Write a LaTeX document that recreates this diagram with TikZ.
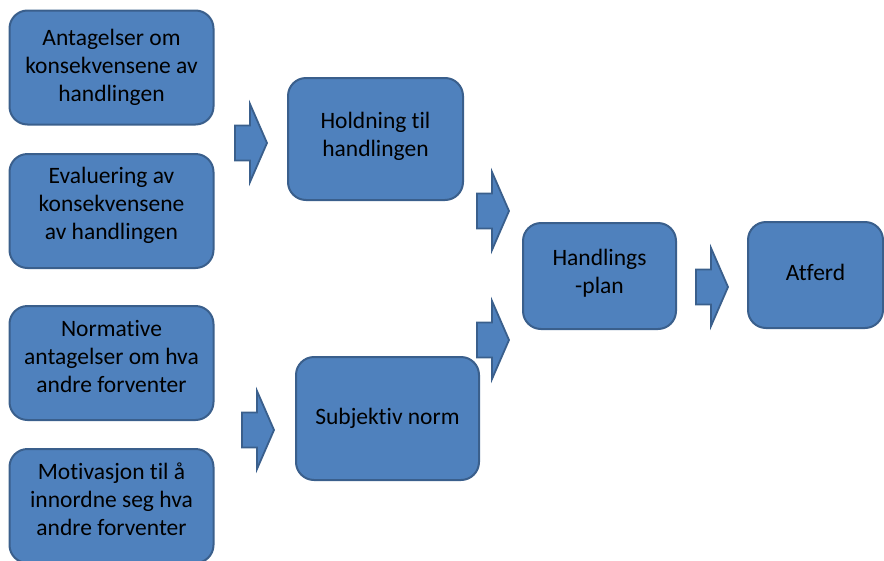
\documentclass[tikz,border=0pt]{standalone}
\usepackage{fontspec}
\setmainfont{Carlito}[Ligatures=CommonOff]
\usetikzlibrary{positioning}
\definecolor{boxfill}{HTML}{4F81BD}
\definecolor{boxline}{HTML}{3A5F8C}

\tikzset{
  boxtext/.style={align=center,inner sep=0pt,font=\fontsize{23.5}{28}\selectfont},
  stepbox/.style={rectangle,rounded corners=18pt,draw=boxline,fill=boxfill,line width=2pt,boxtext},
  leftbox/.style={stepbox,minimum width=204pt,minimum height=114pt},
  % text lifted a little above the box centre
  lifted/.style 2 args={label={[boxtext,yshift=#1]center:{#2}}},
  blockarrow/.pic={
    \draw[boxline,fill=boxfill,line width=1.8pt,line join=miter]
      (-16,-17.5) -- (-1,-17.5) -- (-1,-39) -- (16,0) -- (-1,39) -- (-1,17.5) -- (-16,17.5) -- cycle;}
}

\begin{document}
\begin{tikzpicture}[x=1pt,y=-1pt]
  \useasboundingbox (0,0) rectangle (884,560);
  % left column
  \node[leftbox] (antagelser) at (111.5,67.5) {Antagelser om\\konsekvensene av\\handlingen};
  \node[leftbox,lifted={6pt}{Evaluering av\\konsekvensene\\av handlingen}] (evaluering) at (111.5,211) {};
  \node[leftbox,lifted={7pt}{Normative\\antagelser om hva\\andre forventer}] (normative) at (111.5,363) {};
  \node[leftbox,lifted={7pt}{Motivasjon til å\\innordne seg hva\\andre forventer}] (motivasjon) at (111.5,506) {};

  % middle and right
  \node[stepbox,minimum width=175pt,minimum height=122pt,lifted={3pt}{Holdning til\\handlingen}] (holdning) at (375.5,139) {};
  \node[stepbox,minimum width=183pt,minimum height=123pt] (subjektiv) at (387.5,418.5) {Subjektiv norm};
  \node[stepbox,minimum width=153pt,minimum height=106pt,lifted={3pt}{Handlings\\-plan}] (handlingsplan) at (599.5,276) {};
  \node[stepbox,minimum width=135pt,minimum height=106pt,lifted={3pt}{Atferd}] (atferd) at (815.5,275) {};

  % block arrows
  \pic (tilholdning) at (251,143) {blockarrow};
  \pic (tilsubjektiv) at (258,430) {blockarrow};
  \pic (fraholdning) at (493,211) {blockarrow};
  \pic (frasubjektiv) at (493,340) {blockarrow};
  \pic (tilatferd) at (712,287) {blockarrow};
\end{tikzpicture}
\end{document}
